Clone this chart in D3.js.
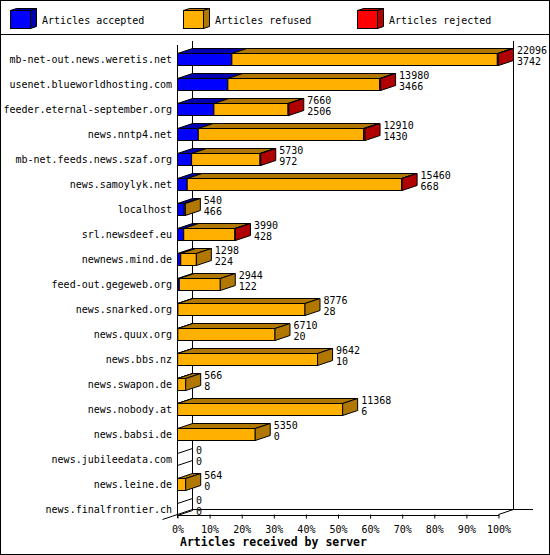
<!DOCTYPE html>
<meta charset="utf-8">
<script src="https://d3js.org/d3.v7.min.js"></script>
<style>
  body { margin: 0; background: #fff; }
  svg text { font-family: "DejaVu Sans Mono", monospace; font-size: 10px; fill: #000; }
</style>
<body>
<div id="canvas"></div>
<script>

    // dados -------------------------------------------------------------
    var hosts = ["mb-net-out.news.weretis.net", "usenet.blueworldhosting.com", "feeder.eternal-september.org",
        "news.nntp4.net", "mb-net.feeds.news.szaf.org", "news.samoylyk.net", "localhost", "srl.newsdeef.eu",
        "newnews.mind.de", "feed-out.gegeweb.org", "news.snarked.org", "news.quux.org", "news.bbs.nz",
        "news.swapon.de", "news.nobody.at", "news.babsi.de", "news.jubileedata.com", "news.leine.de",
        "news.finalfrontier.ch"];
    var accepted = [3742, 3466, 2506, 1430, 972, 668, 466, 428, 224, 122, 28, 20, 10, 8, 6, 0, 0, 0, 0];
    var refused  = [18274, 10454, 5104, 11380, 4708, 14752, 74, 3522, 1074, 2822, 8748, 6690, 9632, 558, 11362, 5350, 0, 564, 0];
    var rejected = [80, 60, 50, 100, 50, 40, 0, 40, 0, 0, 0, 0, 0, 0, 0, 0, 0, 0, 0];
    var seriesNames = ["Articles accepted", "Articles refused", "Articles rejected"];
    var tickPercents = [0, 10, 20, 30, 40, 50, 60, 70, 80, 90, 100];

    var colors = ["#0000ff", "#ffb000", "#ff0000"];
    var shades = ["#0000b0", "#b07800", "#b00000"];

    var width = 550;
    var height = 555;
    var dx = 15, dy = 5;     // profundidade 3d
    var half = 6;            // meia altura da barra

    var svg = d3.select('#canvas')
        .append("svg")
        .attr("width", width)
        .attr("height", height);

    // moldura e separador da legenda
    svg.append("rect")
        .attr("x", 0.5).attr("y", 0.5)
        .attr("width", width - 1).attr("height", height - 1)
        .attr("fill", "#fff").attr("stroke", "#000");
    svg.append("line")
        .attr("x1", 0).attr("x2", width)
        .attr("y1", 34.5).attr("y2", 34.5)
        .attr("stroke", "#000");

    // legenda ----------------------------------------------------------
    var legendX = [10, 183, 357];
    var leg = svg.selectAll(".leg")
        .data(seriesNames)
        .enter()
        .append("g")
        .attr("transform", function(d, i) { return "translate(" + legendX[i] + ",10)"; });
    leg.append("path")
        .attr("d", "M0.5,0.5 L6.5,-1.5 L26.5,-1.5 L20.5,0.5 Z")
        .attr("fill", function(d, i) { return shades[i]; })
        .attr("stroke", "#000");
    leg.append("path")
        .attr("d", "M20.5,0.5 L26.5,-1.5 L26.5,16.5 L20.5,18.5 Z")
        .attr("fill", function(d, i) { return shades[i]; })
        .attr("stroke", "#000");
    leg.append("rect")
        .attr("x", 0.5).attr("y", 0.5)
        .attr("width", 20).attr("height", 18)
        .attr("fill", function(d, i) { return colors[i]; })
        .attr("stroke", "#000");
    leg.append("text")
        .attr("x", 32)
        .attr("y", 10)
        .attr("dy", "0.35em")
        .text(function(d) { return d; });

    // escalas ----------------------------------------------------------
    var totals = hosts.map(function(h, i) { return accepted[i] + refused[i] + rejected[i]; });
    var x = d3.scaleLinear()
        .domain([0, d3.max(totals)])
        .range([177, 498]);
    var xp = d3.scaleLinear()
        .domain([0, 100])
        .range([177, 498]);
    var y = d3.scalePoint()
        .domain(hosts)
        .range([59, 509]);

    var g = svg.append("g").attr("shape-rendering", "crispEdges");
    var floorY = 514;

    // paredes e chao
    var walls = [
        [xp(0) + dx, 40, xp(0) + dx, floorY - dy],
        [xp(100) + dx, 40, xp(100) + dx, floorY - dy],
        [xp(0) + dx, floorY - dy, xp(100) + dx + 19, floorY - dy],
        [xp(0) - dx, floorY + dy, xp(0) + dx, floorY - dy],
        [xp(100), floorY, xp(100) + dx, floorY - dy],
        [xp(0), 44, xp(0), floorY + 3]
    ];
    g.selectAll(".wall")
        .data(walls)
        .enter()
        .append("line")
        .attr("x1", function(d) { return d[0] + 0.5; })
        .attr("y1", function(d) { return d[1] + 0.5; })
        .attr("x2", function(d) { return d[2] + 0.5; })
        .attr("y2", function(d) { return d[3] + 0.5; })
        .attr("stroke", "#000")
        .attr("shape-rendering", function(d) { return d[0] == d[2] || d[1] == d[3] ? "crispEdges" : "auto"; });

    // eixo X em percentagem
    var xAxis = d3.axisBottom(xp)
        .tickValues(tickPercents)
        .tickFormat(function(d) { return d + "%"; })
        .tickSize(4)
        .tickSizeOuter(0)
        .tickPadding(7);
    var ax = svg.append("g")
        .attr("transform", "translate(0.5," + (floorY + 0.5) + ")")
        .call(xAxis);
    ax.selectAll("text").style("font-family", "DejaVu Sans Mono").style("font-size", "10px");
    ax.select(".domain").attr("shape-rendering", "crispEdges");

    svg.append("text")
        .attr("x", 180)
        .attr("y", 546)
        .style("font-size", "11.5px")
        .style("font-weight", "bold")
        .text("Articles received by server");

    // rotulos dos hosts
    svg.selectAll(".host")
        .data(hosts)
        .enter()
        .append("text")
        .attr("x", 172)
        .attr("y", function(d) { return y(d); })
        .attr("dy", "0.35em")
        .attr("text-anchor", "end")
        .text(function(d) { return d; });

    // barras 3d --------------------------------------------------------
    var series = [accepted, refused, rejected];
    hosts.forEach(function(h, i) {
        var t = y(h) - half + 0.5, b = y(h) + half + 0.5;
        var acc = 0, last = -1, lastX = x(0);
        var bar = svg.append("g");
        for (var s = 0; s < series.length; s++) {
            var v = series[s][i];
            if (v <= 0) continue;
            var x0 = x(acc) + 0.5, x1 = x(acc + v) + 0.5;
            acc += v;
            bar.append("rect")
                .attr("x", x0).attr("y", t)
                .attr("width", x1 - x0).attr("height", b - t)
                .attr("fill", colors[s]).attr("stroke", "#000");
            bar.append("path")
                .attr("d", "M" + x0 + "," + t + "L" + (x0 + dx) + "," + (t - dy) + "L" + (x1 + dx) + "," + (t - dy) + "L" + x1 + "," + t + "Z")
                .attr("fill", shades[s]).attr("stroke", "#000");
            last = s;
            lastX = x1;
        }
        if (last < 0) lastX = x(0) + 0.5;
        // face lateral
        bar.append("path")
            .attr("d", "M" + lastX + "," + t + "L" + (lastX + dx) + "," + (t - dy) + "L" + (lastX + dx) + "," + (b - dy) + "L" + lastX + "," + b + "Z")
            .attr("fill", last < 0 ? "none" : shades[last])
            .attr("stroke", "#000");

        // valores: total e aceites
        var lx = x(totals[i]) + dx + 4;
        bar.append("text")
            .attr("x", lx).attr("y", y(h) - 9)
            .attr("dy", "0.35em")
            .text(totals[i]);
        bar.append("text")
            .attr("x", lx).attr("y", y(h) + 2)
            .attr("dy", "0.35em")
            .text(accepted[i]);
    });

</script>
</body>
